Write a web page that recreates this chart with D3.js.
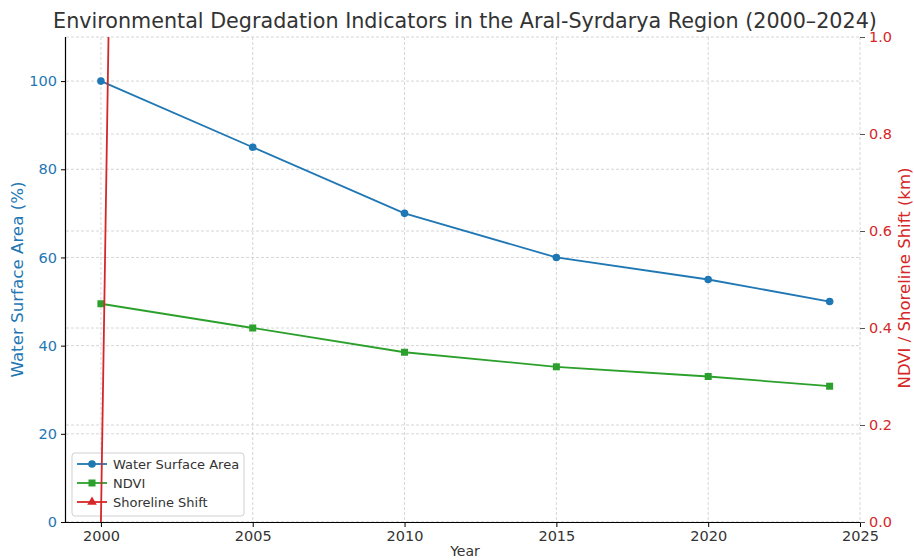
<!DOCTYPE html>
<html><head><meta charset="utf-8">
<script src="https://cdn.jsdelivr.net/npm/d3@7"></script>
<style>
body{margin:0;background:#fff;}
text{font-family:"DejaVu Sans",sans-serif;}
</style></head>
<body><svg id="c" width="914" height="560"></svg>
<script>
const years = [2000, 2005, 2010, 2015, 2020, 2024];
const waterArea = [100, 85, 70, 60, 55, 50];
const ndvi = [0.45, 0.40, 0.35, 0.32, 0.30, 0.28];
const shorelineShift = [0, 20, 35, 45, 55, 60];
const xTicks = [2000, 2005, 2010, 2015, 2020, 2025];
const leftTicks = [0, 20, 40, 60, 80, 100];
const rightTicks = [0.0, 0.2, 0.4, 0.6, 0.8, 1.0];

const blue = "#1f77b4", green = "#2ca02c", red = "#d62728", dark = "#333333";
const m = {l:66, r:860, t:37, b:522};
const svg = d3.select("#c");
const x = d3.scaleLinear().domain([1998.85, 2025]).range([m.l, m.r]);
const yL = d3.scaleLinear().domain([0, 110]).range([m.b, m.t]);
const yR = d3.scaleLinear().domain([0, 1]).range([m.b, m.t]);

const defs = svg.append("defs");
defs.append("clipPath").attr("id","clip")
  .append("rect").attr("x",m.l).attr("y",m.t).attr("width",m.r-m.l).attr("height",m.b-m.t);
defs.append("clipPath").attr("id","clipT")
  .append("rect").attr("x",m.l).attr("y",m.t).attr("width",m.r-m.l).attr("height",m.b-m.t-4);

// grid
const g = svg.append("g");
const gridStyle = s => s.attr("stroke","#cccccc").attr("stroke-width",0.8).attr("stroke-dasharray","3,2");
g.selectAll(".vx").data(xTicks).join("line")
  .attr("x1",d=>x(d)).attr("x2",d=>x(d)).attr("y1",m.t).attr("y2",m.b).call(gridStyle);
g.selectAll(".hl").data(leftTicks).join("line")
  .attr("x1",m.l).attr("x2",m.r).attr("y1",d=>yL(d)).attr("y2",d=>yL(d)).call(gridStyle);
g.selectAll(".hr").data(rightTicks).join("line")
  .attr("x1",m.l).attr("x2",m.r).attr("y1",d=>yR(d)).attr("y2",d=>yR(d)).call(gridStyle);

// lines
const plot = svg.append("g").attr("clip-path","url(#clip)");
const pts = (vals, ys) => years.map((yr,i)=>[x(yr), ys(vals[i])]);
const line = d3.line();
plot.append("path").attr("d",line(pts(waterArea,yL))).attr("fill","none").attr("stroke",blue).attr("stroke-width",1.8);
plot.selectAll(".wc").data(pts(waterArea,yL)).join("circle").attr("cx",d=>d[0]).attr("cy",d=>d[1]).attr("r",3.8).attr("fill",blue);
plot.append("path").attr("d",line(pts(ndvi,yR))).attr("fill","none").attr("stroke",green).attr("stroke-width",1.8);
plot.selectAll(".nc").data(pts(ndvi,yR)).join("rect").attr("x",d=>d[0]-3.5).attr("y",d=>d[1]-3.5).attr("width",7).attr("height",7).attr("fill",green);

// legend (on left axes, beneath the twin-axis series)
const tri = d3.symbol().type(d3.symbolTriangle).size(40);
const lg = svg.append("g").attr("transform","translate(72,453)");
lg.append("rect").attr("width",172).attr("height",63).attr("rx",3).attr("fill","#fff").attr("fill-opacity",0.8).attr("stroke","#d0d0d0");
const items = [{n:"Water Surface Area",c:blue,s:"circle"},{n:"NDVI",c:green,s:"square"},{n:"Shoreline Shift",c:red,s:"triangle"}];
items.forEach((it,i)=>{
  const yy = 11 + i*19;
  lg.append("line").attr("x1",5).attr("x2",35).attr("y1",yy).attr("y2",yy).attr("stroke",it.c).attr("stroke-width",1.8);
  if(it.s==="circle") lg.append("circle").attr("cx",20).attr("cy",yy).attr("r",3.8).attr("fill",it.c);
  else if(it.s==="square") lg.append("rect").attr("x",16.5).attr("y",yy-3.5).attr("width",7).attr("height",7).attr("fill",it.c);
  else lg.append("path").attr("d",tri).attr("transform",`translate(20,${yy})`).attr("fill",it.c);
  lg.append("text").attr("x",41).attr("y",yy+4.5).attr("fill",dark).style("font-size","13px").text(it.n);
});

const plot2 = svg.append("g").attr("clip-path","url(#clip)");
plot2.append("path").attr("d",line(pts(shorelineShift,yR))).attr("fill","none").attr("stroke",red).attr("stroke-width",1.8);
svg.append("g").attr("clip-path","url(#clipT)").selectAll(".sc").data(pts(shorelineShift,yR)).join("path").attr("d",tri).attr("transform",d=>`translate(${d[0]},${d[1]})`).attr("fill",red);

// axes
const fs = "14.5px";
const axB = svg.append("g").attr("transform",`translate(0,${m.b})`)
  .call(d3.axisBottom(x).tickValues(xTicks).tickFormat(d3.format("d")).tickSize(5).tickPadding(4));
axB.select(".domain").attr("stroke","#000").attr("stroke-width",1.2).attr("d",`M${m.l},0.5H${m.r}`);
axB.selectAll("text").attr("fill",dark).style("font-size",fs);
const axL = svg.append("g").attr("transform",`translate(${m.l},0)`)
  .call(d3.axisLeft(yL).tickValues(leftTicks).tickSize(5).tickPadding(4));
axL.select(".domain").attr("stroke","#000").attr("stroke-width",1.2).attr("d",`M-0.5,${m.t}V${m.b}`);
axL.selectAll("text").attr("fill",blue).style("font-size",fs);
const axR = svg.append("g").attr("transform",`translate(${m.r},0)`)
  .call(d3.axisRight(yR).tickValues(rightTicks).tickFormat(d3.format(".1f")).tickSize(5).tickPadding(4));
axR.select(".domain").remove();
axR.selectAll("line").attr("stroke","#555");
axR.selectAll("text").attr("fill",red).style("font-size",fs);

// labels
svg.append("text").attr("x",465).attr("y",27.5).attr("text-anchor","middle").attr("fill",dark).style("font-size","20.7px")
  .text("Environmental Degradation Indicators in the Aral-Syrdarya Region (2000–2024)");
svg.append("text").attr("x",465).attr("y",556).attr("text-anchor","middle").attr("fill",dark).style("font-size","14px").text("Year");
svg.append("text").attr("transform",`translate(23,279.5) rotate(-90)`).attr("text-anchor","middle").attr("fill",blue).style("font-size","16.7px").text("Water Surface Area (%)");
svg.append("text").attr("transform",`translate(910,278) rotate(-90)`).attr("text-anchor","middle").attr("fill",red).style("font-size","16.5px").text("NDVI / Shoreline Shift (km)");
</script></body></html>
